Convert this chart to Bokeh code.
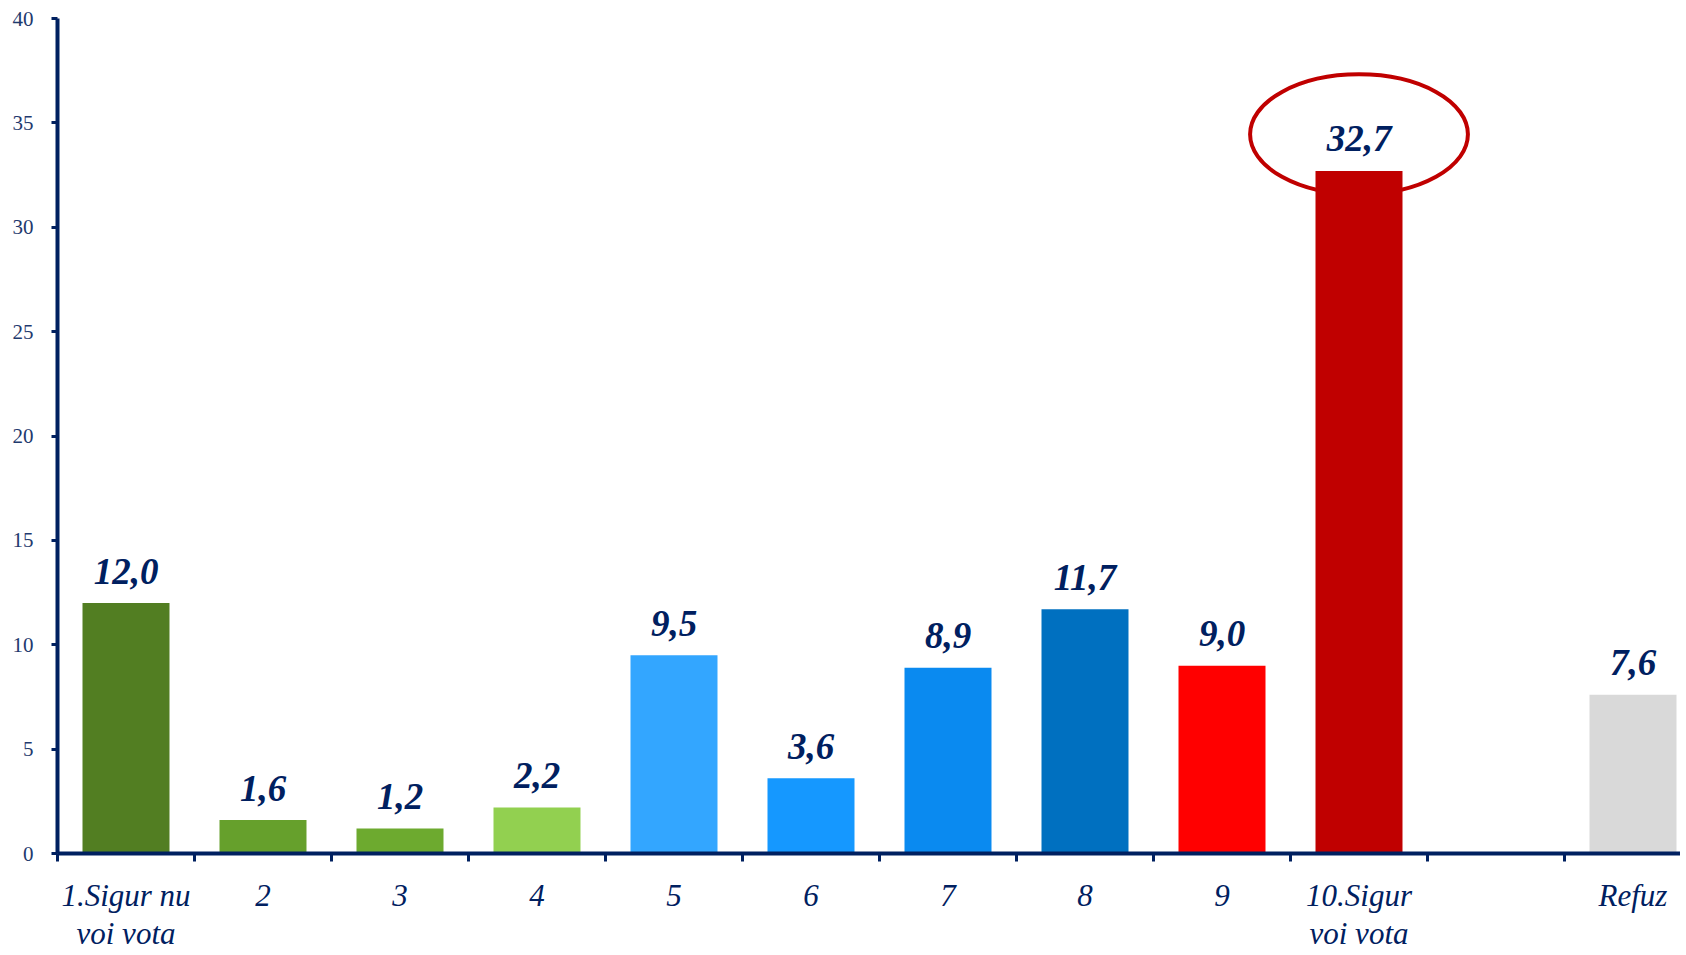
from bokeh.plotting import figure
from bokeh.models import Range1d, FixedTicker, ColumnDataSource
from bokeh.core.properties import value
from bokeh.embed import file_html
from bokeh.resources import INLINE

categories = ["1.Sigur nu\nvoi vota", "2", "3", "4", "5", "6", "7", "8", "9",
              "10.Sigur\nvoi vota", "", "Refuz"]
values = [12.0, 1.6, 1.2, 2.2, 9.5, 3.6, 8.9, 11.7, 9.0, 32.7, None, 7.6]
colors = ["#527E22", "#66A02C", "#6DAA2F", "#92D050", "#33A6FF", "#1598FF",
          "#0A8AF0", "#0070C0", "#FF0000", "#C00000", None, "#D9D9D9"]
highlight = "10.Sigur\nvoi vota"
y_ticks = [0, 5, 10, 15, 20, 25, 30, 35, 40]

NAVY = "#002060"
LABEL = "#1F3A6E"
SERIF = "Liberation Serif"

xs, tops, cols, texts = [], [], [], []
for i, (c, v, col) in enumerate(zip(categories, values, colors)):
    if v is None:
        continue
    xs.append(i + 0.5)
    tops.append(v)
    cols.append(col)
    texts.append(f"{v:.1f}".replace(".", ","))
src = ColumnDataSource(dict(x=xs, top=tops, color=cols, text=texts))

W, H = 1680, 955
left, top_b = 57, 18
bottom_b = H - 853
cat_px = 137.0
x_end = (W - left) / cat_px

p = figure(width=W, height=H, output_backend="svg", toolbar_location=None,
           x_range=Range1d(0, x_end), y_range=Range1d(0, 40),
           min_border_left=left, min_border_right=0, min_border_top=top_b,
           min_border_bottom=bottom_b)
p.outline_line_color = None
p.grid.visible = False
p.background_fill_color = "white"
p.border_fill_color = "white"

# highlight ellipse (drawn behind bar)
hi = categories.index(highlight)
hv = values[hi]
p.ellipse(x=[hi + 0.5], y=[hv + 1.75], width=[1.59], height=[5.75],
          fill_alpha=0, line_color="#C00000", line_width=4)

p.vbar(x="x", top="top", bottom=0, width=0.635, color="color", source=src,
       line_color=None)

p.text(x="x", y="top", text="text", source=src, text_align="center",
       text_baseline="alphabetic", y_offset=-32, text_color=NAVY,
       text_font=value(SERIF), text_font_style="bold italic",
       text_font_size="37px")

# y axis
ya = p.yaxis[0]
ya.ticker = FixedTicker(ticks=y_ticks, minor_ticks=[])
ya.axis_line_color = NAVY
ya.axis_line_width = 4
ya.major_tick_line_color = NAVY
ya.major_tick_line_width = 3
ya.major_tick_in = 0
ya.major_tick_out = 6
ya.minor_tick_line_color = None
ya.major_label_text_font = SERIF
ya.major_label_text_font_size = "21px"
ya.major_label_text_color = LABEL
ya.major_label_standoff = 18

# x axis
xa = p.xaxis[0]
centers = [i + 0.5 for i in range(len(categories))]
bounds = [float(i) for i in range(len(categories) + 1)]
xa.ticker = FixedTicker(ticks=centers, minor_ticks=bounds)
xa.major_label_overrides = {c: lab for c, lab in zip(centers, categories)}
xa.axis_line_color = NAVY
xa.axis_line_width = 4
xa.major_tick_line_color = None
xa.major_tick_in = 0
xa.major_tick_out = 0
xa.minor_tick_line_color = NAVY
xa.minor_tick_line_width = 3
xa.minor_tick_in = 0
xa.minor_tick_out = 8
xa.axis_label_standoff = 0
xa.major_label_text_font = SERIF
xa.major_label_text_font_style = "italic"
xa.major_label_text_font_size = "31px"
xa.major_label_text_line_height = 1.1
xa.major_label_text_color = NAVY
xa.major_label_standoff = 16

open("out.html", "w").write(file_html(p, INLINE))
